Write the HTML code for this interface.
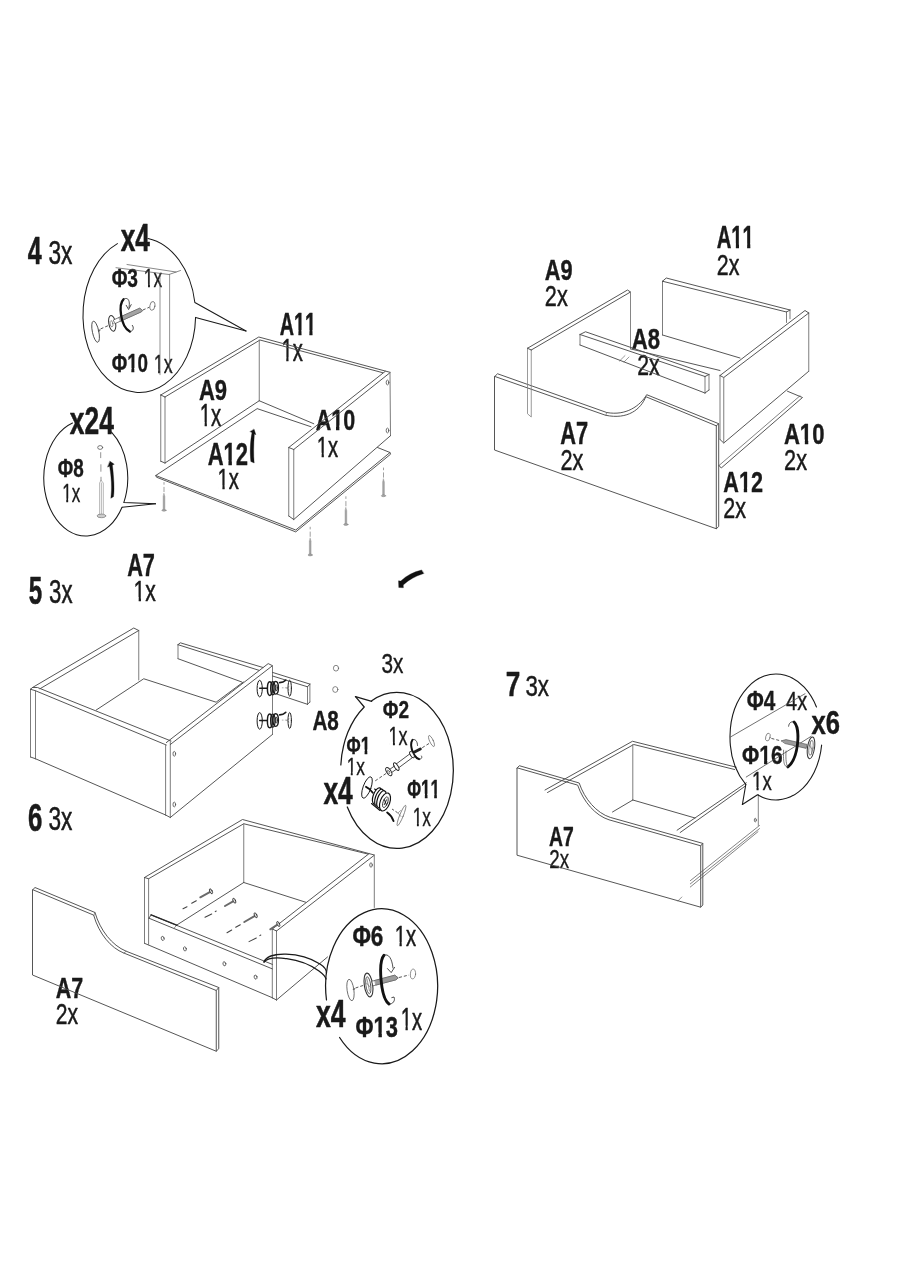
<!DOCTYPE html>
<html><head><meta charset="utf-8"><title>Assembly</title>
<style>html,body{margin:0;padding:0;background:#fff}svg{display:block}text{font-family:"Liberation Sans",sans-serif;font-kerning:none;font-variant-ligatures:none}</style>
</head><body>
<svg width="900" height="1280" viewBox="0 0 900 1280" fill="none" stroke-linecap="round" stroke-linejoin="round">
<rect width="900" height="1280" fill="#fff"/>
<g opacity="0.999">
<g transform="translate(27.66,264.16) scale(0.2505,0.3913)"><text font-size="100" font-weight="bold" fill="#1a1a1a" stroke="#1a1a1a" stroke-width="0.48" vector-effect="non-scaling-stroke">4</text></g>
<g transform="translate(48.46,264.26) scale(0.2269,0.3285)"><text font-size="100" font-weight="normal" fill="#1a1a1a" stroke="#1a1a1a" stroke-width="0.44" vector-effect="non-scaling-stroke">3x</text></g>
<g transform="translate(28.69,603.59) scale(0.2418,0.3874)"><text font-size="100" font-weight="bold" fill="#1a1a1a" stroke="#1a1a1a" stroke-width="0.47" vector-effect="non-scaling-stroke">5</text></g>
<g transform="translate(49.07,602.97) scale(0.2221,0.3258)"><text font-size="100" font-weight="normal" fill="#1a1a1a" stroke="#1a1a1a" stroke-width="0.43" vector-effect="non-scaling-stroke">3x</text></g>
<g transform="translate(27.99,830.78) scale(0.2590,0.3901)"><text font-size="100" font-weight="bold" fill="#1a1a1a" stroke="#1a1a1a" stroke-width="0.48" vector-effect="non-scaling-stroke">6</text></g>
<g transform="translate(48.45,830.27) scale(0.2270,0.3244)"><text font-size="100" font-weight="normal" fill="#1a1a1a" stroke="#1a1a1a" stroke-width="0.43" vector-effect="non-scaling-stroke">3x</text></g>
<g transform="translate(505.79,696.18) scale(0.2615,0.3528)"><text font-size="100" font-weight="bold" fill="#1a1a1a" stroke="#1a1a1a" stroke-width="0.43" vector-effect="non-scaling-stroke">7</text></g>
<g transform="translate(525.45,696.21) scale(0.2224,0.3008)"><text font-size="100" font-weight="normal" fill="#1a1a1a" stroke="#1a1a1a" stroke-width="0.4" vector-effect="non-scaling-stroke">3x</text></g>
<g transform="translate(120.66,251.26) scale(0.2630,0.3871)"><text font-size="100" font-weight="bold" fill="#1a1a1a" stroke="#1a1a1a" stroke-width="0.47" vector-effect="non-scaling-stroke">x4</text></g>
<g transform="translate(111.67,287.05) scale(0.1914,0.2598)"><text font-size="100" font-weight="bold" fill="#1a1a1a" stroke="#1a1a1a" stroke-width="0.32" vector-effect="non-scaling-stroke">Φ3</text></g>
<clipPath id="c10"><path clip-rule="evenodd" d="M-50,-150 H600 V60 H-50 Z M2.61,-13.44 H24.14 V12 H2.61 Z M34.99,-13.44 H55.74 V12 H34.99 Z"/></clipPath>
<g transform="translate(143.86,287.32) scale(0.1728,0.2638)"><text font-size="100" font-weight="normal" fill="#1a1a1a" stroke="#1a1a1a" stroke-width="0.35" vector-effect="non-scaling-stroke" clip-path="url(#c10)">1x</text></g>
<clipPath id="c12"><path clip-rule="evenodd" d="M-50,-150 H600 V60 H-50 Z M83.53,-16.12 H104.57 V12 H83.53 Z M119.99,-16.12 H139.76 V12 H119.99 Z"/></clipPath>
<g transform="translate(111.68,372.33) scale(0.1885,0.2638)"><text font-size="100" font-weight="bold" fill="#1a1a1a" stroke="#1a1a1a" stroke-width="0.32" vector-effect="non-scaling-stroke" clip-path="url(#c12)">Φ10</text></g>
<clipPath id="c14"><path clip-rule="evenodd" d="M-50,-150 H600 V60 H-50 Z M2.65,-13.49 H24.18 V12 H2.65 Z M34.95,-13.49 H55.70 V12 H34.95 Z"/></clipPath>
<g transform="translate(153.81,372.57) scale(0.1795,0.2616)"><text font-size="100" font-weight="normal" fill="#1a1a1a" stroke="#1a1a1a" stroke-width="0.35" vector-effect="non-scaling-stroke" clip-path="url(#c14)">1x</text></g>
<g transform="translate(69.75,434.46) scale(0.2646,0.3814)"><text font-size="100" font-weight="bold" fill="#1a1a1a" stroke="#1a1a1a" stroke-width="0.47" vector-effect="non-scaling-stroke">x24</text></g>
<g transform="translate(57.78,476.79) scale(0.1884,0.2596)"><text font-size="100" font-weight="bold" fill="#1a1a1a" stroke="#1a1a1a" stroke-width="0.32" vector-effect="non-scaling-stroke">Φ8</text></g>
<clipPath id="c18"><path clip-rule="evenodd" d="M-50,-150 H600 V60 H-50 Z M2.60,-13.41 H24.13 V12 H2.60 Z M35.00,-13.41 H55.75 V12 H35.00 Z"/></clipPath>
<g transform="translate(62.17,502.02) scale(0.1708,0.2653)"><text font-size="100" font-weight="normal" fill="#1a1a1a" stroke="#1a1a1a" stroke-width="0.35" vector-effect="non-scaling-stroke" clip-path="url(#c18)">1x</text></g>
<clipPath id="c20"><path clip-rule="evenodd" d="M-50,-150 H600 V60 H-50 Z M73.56,-15.39 H94.60 V12 H73.56 Z M110.24,-15.39 H130.01 V12 H110.24 Z M129.17,-15.39 H150.21 V12 H129.17 Z M165.85,-15.39 H185.62 V12 H165.85 Z"/></clipPath>
<g transform="translate(279.70,335.06) scale(0.1977,0.3070)"><text font-size="100" font-weight="bold" fill="#1a1a1a" stroke="#1a1a1a" stroke-width="0.38" vector-effect="non-scaling-stroke" clip-path="url(#c20)">A11</text></g>
<clipPath id="c22"><path clip-rule="evenodd" d="M-50,-150 H600 V60 H-50 Z M2.61,-12.71 H24.14 V12 H2.61 Z M34.99,-12.71 H55.74 V12 H34.99 Z"/></clipPath>
<g transform="translate(281.42,361.30) scale(0.2021,0.3065)"><text font-size="100" font-weight="normal" fill="#1a1a1a" stroke="#1a1a1a" stroke-width="0.41" vector-effect="non-scaling-stroke" clip-path="url(#c22)">1x</text></g>
<clipPath id="c24"><path clip-rule="evenodd" d="M-50,-150 H600 V60 H-50 Z M73.68,-15.58 H94.72 V12 H73.68 Z M110.11,-15.58 H129.88 V12 H110.11 Z"/></clipPath>
<g transform="translate(315.64,430.13) scale(0.2151,0.2943)"><text font-size="100" font-weight="bold" fill="#1a1a1a" stroke="#1a1a1a" stroke-width="0.36" vector-effect="non-scaling-stroke" clip-path="url(#c24)">A10</text></g>
<clipPath id="c26"><path clip-rule="evenodd" d="M-50,-150 H600 V60 H-50 Z M2.63,-12.74 H24.16 V12 H2.63 Z M34.97,-12.74 H55.72 V12 H34.97 Z"/></clipPath>
<g transform="translate(316.76,456.70) scale(0.2022,0.3038)"><text font-size="100" font-weight="normal" fill="#1a1a1a" stroke="#1a1a1a" stroke-width="0.4" vector-effect="non-scaling-stroke" clip-path="url(#c26)">1x</text></g>
<g transform="translate(198.94,400.02) scale(0.2206,0.3041)"><text font-size="100" font-weight="bold" fill="#1a1a1a" stroke="#1a1a1a" stroke-width="0.37" vector-effect="non-scaling-stroke">A9</text></g>
<clipPath id="c29"><path clip-rule="evenodd" d="M-50,-150 H600 V60 H-50 Z M2.64,-12.71 H24.17 V12 H2.64 Z M34.96,-12.71 H55.71 V12 H34.96 Z"/></clipPath>
<g transform="translate(199.75,426.20) scale(0.2033,0.3052)"><text font-size="100" font-weight="normal" fill="#1a1a1a" stroke="#1a1a1a" stroke-width="0.4" vector-effect="non-scaling-stroke" clip-path="url(#c29)">1x</text></g>
<clipPath id="c31"><path clip-rule="evenodd" d="M-50,-150 H600 V60 H-50 Z M73.65,-15.37 H94.69 V12 H73.65 Z M110.14,-15.37 H129.91 V12 H110.14 Z"/></clipPath>
<g transform="translate(207.64,464.81) scale(0.2199,0.3082)"><text font-size="100" font-weight="bold" fill="#1a1a1a" stroke="#1a1a1a" stroke-width="0.38" vector-effect="non-scaling-stroke" clip-path="url(#c31)">A12</text></g>
<clipPath id="c33"><path clip-rule="evenodd" d="M-50,-150 H600 V60 H-50 Z M2.63,-12.74 H24.16 V12 H2.63 Z M34.97,-12.74 H55.72 V12 H34.97 Z"/></clipPath>
<g transform="translate(217.56,489.40) scale(0.2022,0.3038)"><text font-size="100" font-weight="normal" fill="#1a1a1a" stroke="#1a1a1a" stroke-width="0.4" vector-effect="non-scaling-stroke" clip-path="url(#c33)">1x</text></g>
<g transform="translate(127.15,575.61) scale(0.2176,0.3084)"><text font-size="100" font-weight="bold" fill="#1a1a1a" stroke="#1a1a1a" stroke-width="0.38" vector-effect="non-scaling-stroke">A7</text></g>
<clipPath id="c36"><path clip-rule="evenodd" d="M-50,-150 H600 V60 H-50 Z M2.67,-12.74 H24.20 V12 H2.67 Z M34.93,-12.74 H55.68 V12 H34.93 Z"/></clipPath>
<g transform="translate(133.60,601.10) scale(0.2105,0.3038)"><text font-size="100" font-weight="normal" fill="#1a1a1a" stroke="#1a1a1a" stroke-width="0.4" vector-effect="non-scaling-stroke" clip-path="url(#c36)">1x</text></g>
<g transform="translate(544.84,279.92) scale(0.2173,0.3013)"><text font-size="100" font-weight="bold" fill="#1a1a1a" stroke="#1a1a1a" stroke-width="0.37" vector-effect="non-scaling-stroke">A9</text></g>
<g transform="translate(544.81,306.00) scale(0.2171,0.3036)"><text font-size="100" font-weight="normal" fill="#1a1a1a" stroke="#1a1a1a" stroke-width="0.4" vector-effect="non-scaling-stroke">2x</text></g>
<g transform="translate(631.73,348.92) scale(0.2211,0.3013)"><text font-size="100" font-weight="bold" fill="#1a1a1a" stroke="#1a1a1a" stroke-width="0.37" vector-effect="non-scaling-stroke">A8</text></g>
<g transform="translate(637.13,375.40) scale(0.2120,0.3036)"><text font-size="100" font-weight="normal" fill="#1a1a1a" stroke="#1a1a1a" stroke-width="0.4" vector-effect="non-scaling-stroke">2x</text></g>
<g transform="translate(560.15,443.51) scale(0.2184,0.3099)"><text font-size="100" font-weight="bold" fill="#1a1a1a" stroke="#1a1a1a" stroke-width="0.38" vector-effect="non-scaling-stroke">A7</text></g>
<g transform="translate(560.41,469.50) scale(0.2171,0.3036)"><text font-size="100" font-weight="normal" fill="#1a1a1a" stroke="#1a1a1a" stroke-width="0.4" vector-effect="non-scaling-stroke">2x</text></g>
<clipPath id="c44"><path clip-rule="evenodd" d="M-50,-150 H600 V60 H-50 Z M73.58,-15.34 H94.62 V12 H73.58 Z M110.21,-15.34 H129.98 V12 H110.21 Z M129.19,-15.34 H150.23 V12 H129.19 Z M165.83,-15.34 H185.60 V12 H165.83 Z"/></clipPath>
<g transform="translate(716.69,248.31) scale(0.2027,0.3099)"><text font-size="100" font-weight="bold" fill="#1a1a1a" stroke="#1a1a1a" stroke-width="0.38" vector-effect="non-scaling-stroke" clip-path="url(#c44)">A11</text></g>
<g transform="translate(716.82,274.60) scale(0.2140,0.3036)"><text font-size="100" font-weight="normal" fill="#1a1a1a" stroke="#1a1a1a" stroke-width="0.4" vector-effect="non-scaling-stroke">2x</text></g>
<clipPath id="c47"><path clip-rule="evenodd" d="M-50,-150 H600 V60 H-50 Z M73.68,-15.47 H94.72 V12 H73.68 Z M110.12,-15.47 H129.89 V12 H110.12 Z"/></clipPath>
<g transform="translate(783.94,444.22) scale(0.2207,0.3013)"><text font-size="100" font-weight="bold" fill="#1a1a1a" stroke="#1a1a1a" stroke-width="0.37" vector-effect="non-scaling-stroke" clip-path="url(#c47)">A10</text></g>
<g transform="translate(784.11,470.40) scale(0.2171,0.3036)"><text font-size="100" font-weight="normal" fill="#1a1a1a" stroke="#1a1a1a" stroke-width="0.4" vector-effect="non-scaling-stroke">2x</text></g>
<clipPath id="c50"><path clip-rule="evenodd" d="M-50,-150 H600 V60 H-50 Z M73.66,-15.42 H94.70 V12 H73.66 Z M110.13,-15.42 H129.90 V12 H110.13 Z"/></clipPath>
<g transform="translate(723.35,492.31) scale(0.2160,0.3040)"><text font-size="100" font-weight="bold" fill="#1a1a1a" stroke="#1a1a1a" stroke-width="0.37" vector-effect="non-scaling-stroke" clip-path="url(#c50)">A12</text></g>
<g transform="translate(723.22,518.40) scale(0.2151,0.3036)"><text font-size="100" font-weight="normal" fill="#1a1a1a" stroke="#1a1a1a" stroke-width="0.4" vector-effect="non-scaling-stroke">2x</text></g>
<g transform="translate(381.39,672.55) scale(0.2078,0.2758)"><text font-size="100" font-weight="normal" fill="#1a1a1a" stroke="#1a1a1a" stroke-width="0.37" vector-effect="non-scaling-stroke">3x</text></g>
<g transform="translate(312.45,730.37) scale(0.2067,0.2736)"><text font-size="100" font-weight="bold" fill="#1a1a1a" stroke="#1a1a1a" stroke-width="0.33" vector-effect="non-scaling-stroke">A8</text></g>
<g transform="translate(382.76,718.32) scale(0.1906,0.2459)"><text font-size="100" font-weight="bold" fill="#1a1a1a" stroke="#1a1a1a" stroke-width="0.3" vector-effect="non-scaling-stroke">Φ2</text></g>
<clipPath id="c56"><path clip-rule="evenodd" d="M-50,-150 H600 V60 H-50 Z M2.70,-13.70 H24.23 V12 H2.70 Z M34.90,-13.70 H55.65 V12 H34.90 Z"/></clipPath>
<g transform="translate(388.59,745.13) scale(0.1802,0.2510)"><text font-size="100" font-weight="normal" fill="#1a1a1a" stroke="#1a1a1a" stroke-width="0.33" vector-effect="non-scaling-stroke" clip-path="url(#c56)">1x</text></g>
<clipPath id="c58"><path clip-rule="evenodd" d="M-50,-150 H600 V60 H-50 Z M83.51,-16.50 H104.55 V12 H83.51 Z M120.01,-16.50 H139.78 V12 H120.01 Z"/></clipPath>
<g transform="translate(346.62,753.62) scale(0.1722,0.2463)"><text font-size="100" font-weight="bold" fill="#1a1a1a" stroke="#1a1a1a" stroke-width="0.3" vector-effect="non-scaling-stroke" clip-path="url(#c58)">Φ1</text></g>
<clipPath id="c60"><path clip-rule="evenodd" d="M-50,-150 H600 V60 H-50 Z M2.70,-13.87 H24.23 V12 H2.70 Z M34.90,-13.87 H55.65 V12 H34.90 Z"/></clipPath>
<g transform="translate(346.64,775.14) scale(0.1731,0.2439)"><text font-size="100" font-weight="normal" fill="#1a1a1a" stroke="#1a1a1a" stroke-width="0.32" vector-effect="non-scaling-stroke" clip-path="url(#c60)">1x</text></g>
<g transform="translate(323.45,803.66) scale(0.2639,0.3813)"><text font-size="100" font-weight="bold" fill="#1a1a1a" stroke="#1a1a1a" stroke-width="0.47" vector-effect="non-scaling-stroke">x4</text></g>
<clipPath id="c63"><path clip-rule="evenodd" d="M-50,-150 H600 V60 H-50 Z M83.46,-16.38 H104.50 V12 H83.46 Z M120.06,-16.38 H139.83 V12 H120.06 Z M139.08,-16.38 H160.12 V12 H139.08 Z M175.68,-16.38 H195.45 V12 H175.68 Z"/></clipPath>
<g transform="translate(407.24,797.91) scale(0.1685,0.2519)"><text font-size="100" font-weight="bold" fill="#1a1a1a" stroke="#1a1a1a" stroke-width="0.31" vector-effect="non-scaling-stroke" clip-path="url(#c63)">Φ11</text></g>
<clipPath id="c65"><path clip-rule="evenodd" d="M-50,-150 H600 V60 H-50 Z M2.67,-13.74 H24.20 V12 H2.67 Z M34.93,-13.74 H55.68 V12 H34.93 Z"/></clipPath>
<g transform="translate(412.75,826.44) scale(0.1730,0.2496)"><text font-size="100" font-weight="normal" fill="#1a1a1a" stroke="#1a1a1a" stroke-width="0.33" vector-effect="non-scaling-stroke" clip-path="url(#c65)">1x</text></g>
<g transform="translate(548.88,845.54) scale(0.1941,0.2714)"><text font-size="100" font-weight="bold" fill="#1a1a1a" stroke="#1a1a1a" stroke-width="0.33" vector-effect="non-scaling-stroke">A7</text></g>
<g transform="translate(549.23,868.13) scale(0.1875,0.2572)"><text font-size="100" font-weight="normal" fill="#1a1a1a" stroke="#1a1a1a" stroke-width="0.34" vector-effect="non-scaling-stroke">2x</text></g>
<g transform="translate(746.73,709.69) scale(0.2071,0.2674)"><text font-size="100" font-weight="bold" fill="#1a1a1a" stroke="#1a1a1a" stroke-width="0.33" vector-effect="non-scaling-stroke">Φ4</text></g>
<g transform="translate(786.02,710.12) scale(0.2000,0.2667)"><text font-size="100" font-weight="normal" fill="#1a1a1a" stroke="#1a1a1a" stroke-width="0.35" vector-effect="non-scaling-stroke">4x</text></g>
<g transform="translate(811.42,734.48) scale(0.2562,0.3305)"><text font-size="100" font-weight="bold" fill="#1a1a1a" stroke="#1a1a1a" stroke-width="0.4" vector-effect="non-scaling-stroke">x6</text></g>
<clipPath id="c72"><path clip-rule="evenodd" d="M-50,-150 H600 V60 H-50 Z M83.59,-16.08 H104.63 V12 H83.59 Z M119.93,-16.08 H139.70 V12 H119.93 Z"/></clipPath>
<g transform="translate(742.12,764.17) scale(0.2099,0.2665)"><text font-size="100" font-weight="bold" fill="#1a1a1a" stroke="#1a1a1a" stroke-width="0.33" vector-effect="non-scaling-stroke" clip-path="url(#c72)">Φ16</text></g>
<clipPath id="c74"><path clip-rule="evenodd" d="M-50,-150 H600 V60 H-50 Z M2.68,-13.51 H24.21 V12 H2.68 Z M34.92,-13.51 H55.67 V12 H34.92 Z"/></clipPath>
<g transform="translate(752.06,790.43) scale(0.1862,0.2609)"><text font-size="100" font-weight="normal" fill="#1a1a1a" stroke="#1a1a1a" stroke-width="0.35" vector-effect="non-scaling-stroke" clip-path="url(#c74)">1x</text></g>
<g transform="translate(55.65,997.62) scale(0.2145,0.2971)"><text font-size="100" font-weight="bold" fill="#1a1a1a" stroke="#1a1a1a" stroke-width="0.36" vector-effect="non-scaling-stroke">A7</text></g>
<g transform="translate(55.84,1023.60) scale(0.2110,0.3022)"><text font-size="100" font-weight="normal" fill="#1a1a1a" stroke="#1a1a1a" stroke-width="0.4" vector-effect="non-scaling-stroke">2x</text></g>
<g transform="translate(316.05,1027.07) scale(0.2657,0.3856)"><text font-size="100" font-weight="bold" fill="#1a1a1a" stroke="#1a1a1a" stroke-width="0.47" vector-effect="non-scaling-stroke">x4</text></g>
<g transform="translate(352.38,945.84) scale(0.2248,0.2903)"><text font-size="100" font-weight="bold" fill="#1a1a1a" stroke="#1a1a1a" stroke-width="0.35" vector-effect="non-scaling-stroke">Φ6</text></g>
<clipPath id="c80"><path clip-rule="evenodd" d="M-50,-150 H600 V60 H-50 Z M2.66,-12.93 H24.19 V12 H2.66 Z M34.94,-12.93 H55.69 V12 H34.94 Z"/></clipPath>
<g transform="translate(394.65,945.70) scale(0.2023,0.2923)"><text font-size="100" font-weight="normal" fill="#1a1a1a" stroke="#1a1a1a" stroke-width="0.39" vector-effect="non-scaling-stroke" clip-path="url(#c80)">1x</text></g>
<clipPath id="c82"><path clip-rule="evenodd" d="M-50,-150 H600 V60 H-50 Z M83.56,-15.54 H104.60 V12 H83.56 Z M119.96,-15.54 H139.73 V12 H119.96 Z"/></clipPath>
<g transform="translate(355.51,1037.19) scale(0.2194,0.2966)"><text font-size="100" font-weight="bold" fill="#1a1a1a" stroke="#1a1a1a" stroke-width="0.36" vector-effect="non-scaling-stroke" clip-path="url(#c82)">Φ13</text></g>
<clipPath id="c84"><path clip-rule="evenodd" d="M-50,-150 H600 V60 H-50 Z M2.63,-12.71 H24.16 V12 H2.63 Z M34.97,-12.71 H55.72 V12 H34.97 Z"/></clipPath>
<g transform="translate(400.66,1029.50) scale(0.2022,0.3052)"><text font-size="100" font-weight="normal" fill="#1a1a1a" stroke="#1a1a1a" stroke-width="0.4" vector-effect="non-scaling-stroke" clip-path="url(#c84)">1x</text></g>
<polyline points="160.75,395 160.75,461.25" stroke="#767676" stroke-width="0.95" />
<polyline points="160.75,461.25 165,463" stroke="#4d4d4d" stroke-width="0.95" />
<polyline points="165,463 165,397" stroke="#767676" stroke-width="0.95" />
<polyline points="160.75,395 258.75,337 390,372.3" stroke="#4d4d4d" stroke-width="0.95" />
<polyline points="165,397 260,340 382.7,372.7" stroke="#4d4d4d" stroke-width="0.95" />
<polyline points="160.75,395 165,397" stroke="#4d4d4d" stroke-width="0.95" />
<polyline points="165,463 259.25,400.75" stroke="#4d4d4d" stroke-width="0.95" />
<polyline points="259.25,340 259.25,400.75" stroke="#767676" stroke-width="0.95" />
<polyline points="259.25,400.75 313.75,423.75" stroke="#4d4d4d" stroke-width="0.95" />
<polyline points="288.75,447.5 385.3,371.3" stroke="#4d4d4d" stroke-width="0.95" />
<polyline points="293.75,449.5 390,372.7" stroke="#4d4d4d" stroke-width="0.95" />
<polyline points="390,372.7 390.5,435.7" stroke="#767676" stroke-width="0.95" />
<polyline points="390.5,435.7 293.75,519.5" stroke="#4d4d4d" stroke-width="0.95" />
<polyline points="293.75,519.5 293.75,449.5" stroke="#767676" stroke-width="0.95" />
<polyline points="288.75,447.5 288.75,516" stroke="#767676" stroke-width="0.95" />
<polyline points="288.75,516 293.75,519.5" stroke="#4d4d4d" stroke-width="0.95" />
<polyline points="288.75,447.5 293.75,449.5" stroke="#4d4d4d" stroke-width="0.95" />
<ellipse cx="387.5" cy="382.5" rx="1.3" ry="2.4" transform="rotate(0 387.5 382.5)" stroke="#4d4d4d" stroke-width="0.8" fill="none"/>
<ellipse cx="387.5" cy="430.5" rx="1.3" ry="2.4" transform="rotate(0 387.5 430.5)" stroke="#4d4d4d" stroke-width="0.8" fill="none"/>
<polyline points="257,408.75 155.75,475.5 295.75,530 390,452.5 377.5,447.5" stroke="#4d4d4d" stroke-width="0.95" />
<polyline points="155.75,475.5 156.5,477.2 295.75,531.9 390.6,454.2 390,452.5" stroke="#4d4d4d" stroke-width="0.95" />
<polyline points="257.5,408.75 311,426.75" stroke="#4d4d4d" stroke-width="0.95" />
<polyline points="164,482.5 164,484.3" stroke="#777" stroke-width="0.7" />
<polyline points="164,487.3 164,491.7" stroke="#777" stroke-width="0.7" />
<path d="M164,493.5 L164.85,496.5 L164.85,509.5 L163.15,509.5 L163.15,496.5 Z" stroke="#808080" stroke-width="0.4" fill="#a6a6a6" />
<ellipse cx="164" cy="510.3" rx="2.2" ry="0.9" transform="rotate(0 164 510.3)" stroke="#808080" stroke-width="0.5" fill="#a6a6a6"/>
<polyline points="310.2,527.2 310.2,529.0" stroke="#777" stroke-width="0.7" />
<polyline points="310.2,532.0 310.2,536.4000000000001" stroke="#777" stroke-width="0.7" />
<path d="M310.2,538.2 L311.05,541.2 L311.05,554.2 L309.34999999999997,554.2 L309.34999999999997,541.2 Z" stroke="#808080" stroke-width="0.4" fill="#a6a6a6" />
<ellipse cx="310.2" cy="555" rx="2.2" ry="0.9" transform="rotate(0 310.2 555)" stroke="#808080" stroke-width="0.5" fill="#a6a6a6"/>
<polyline points="345.9,496.7 345.9,498.5" stroke="#777" stroke-width="0.7" />
<polyline points="345.9,501.5 345.9,505.9" stroke="#777" stroke-width="0.7" />
<path d="M345.9,507.7 L346.75,510.7 L346.75,523.7 L345.04999999999995,523.7 L345.04999999999995,510.7 Z" stroke="#808080" stroke-width="0.4" fill="#a6a6a6" />
<ellipse cx="345.9" cy="524.5" rx="2.2" ry="0.9" transform="rotate(0 345.9 524.5)" stroke="#808080" stroke-width="0.5" fill="#a6a6a6"/>
<polyline points="383.5,468 383.5,469.8" stroke="#777" stroke-width="0.7" />
<polyline points="383.5,472.8 383.5,477.2" stroke="#777" stroke-width="0.7" />
<path d="M383.5,479 L384.35,482 L384.35,495.0 L382.65,495.0 L382.65,482 Z" stroke="#808080" stroke-width="0.4" fill="#a6a6a6" />
<ellipse cx="383.5" cy="495.8" rx="2.2" ry="0.9" transform="rotate(0 383.5 495.8)" stroke="#808080" stroke-width="0.5" fill="#a6a6a6"/>
<path d="M254.1,429.3 L255.9,434.7 L254.4,434 C253.5,445 253.5,455 254.2,463 L250.8,461.5 C249.8,452 250.2,441 252,432.6 L250.1,431.8 Z" stroke="#111" stroke-width="0.3" fill="#111" />
<path d="M195.57,317.43 A56.3,77.5 0 0 1 107.45,378.91 A56.3,77.5 0 0 1 117.39,243.61" stroke="#1a1a1a" stroke-width="1.05" fill="none" />
<path d="M148.01,238.43 A56.3,77.5 0 0 1 178.97,260.01 A56.3,77.5 0 0 1 194.86,302.48 L246,331" stroke="#1a1a1a" stroke-width="1.05" fill="none" />
<polyline points="246,331 195.6,317.4" stroke="#1a1a1a" stroke-width="1.05" />
<polyline points="116,267.7 169,274.5 180.5,270.5" stroke="#555" stroke-width="0.7" />
<polyline points="127,264.5 176,272" stroke="#555" stroke-width="0.7" />
<polyline points="160,273.4 160,374.7" stroke="#666" stroke-width="0.7" />
<polyline points="169.6,274.5 169.6,371.8" stroke="#666" stroke-width="0.7" />
<path d="M122.05,507.18 A42,58 0 0 1 53.16,514.58 A42,58 0 0 1 72.49,422.97" stroke="#1a1a1a" stroke-width="1.05" fill="none" />
<path d="M111.49,432.17 A42,58 0 0 1 126.58,464.41 A42,58 0 0 1 123.78,502.60 L155.6,503.8" stroke="#1a1a1a" stroke-width="1.05" fill="none" />
<polyline points="155.6,503.8 122.2,507.2" stroke="#1a1a1a" stroke-width="1.05" />
<path d="M494.5,376.75 L494.5,450 L716.3,528.75 L716.3,425.8 L645.8,396.7 C641,409 628,420 605.8,415.3 Z" stroke="#4d4d4d" stroke-width="0.95" fill="none" />
<path d="M494.5,376.75 L497.5,373.75 L606.7,412.5 C626,416 640,406 646.7,394.7 L718.7,423.7 L718.7,526.5 L716.3,528.75" stroke="#4d4d4d" stroke-width="0.95" fill="none" />
<polyline points="716.3,425.8 718.7,423.7" stroke="#4d4d4d" stroke-width="0.95" />
<polyline points="605.8,415.3 606.7,412.5" stroke="#4d4d4d" stroke-width="0.6" />
<polyline points="527.5,348.25 627.5,290 630.5,292 531.25,350" stroke="#4d4d4d" stroke-width="0.95" />
<polyline points="527.5,348.25 527.5,413.75 531.25,417 531.25,350" stroke="#808080" stroke-width="0.8" />
<polyline points="527.5,348.25 531.25,350" stroke="#4d4d4d" stroke-width="0.95" />
<polyline points="630.5,292 630.5,349" stroke="#707070" stroke-width="0.85" />
<polyline points="580,334.5 580,345" stroke="#767676" stroke-width="0.95" />
<polyline points="580,345 705,393" stroke="#4d4d4d" stroke-width="0.95" />
<polyline points="705,393 705,376.5" stroke="#767676" stroke-width="0.95" />
<polyline points="705,376.5 580,334.5" stroke="#4d4d4d" stroke-width="0.95" />
<polyline points="580,334.5 585.5,331.75 709,374.5" stroke="#4d4d4d" stroke-width="0.95" />
<polyline points="709,374.5 709,390" stroke="#767676" stroke-width="0.95" />
<polyline points="709,390 705,393" stroke="#4d4d4d" stroke-width="0.95" />
<polyline points="705,376.5 709,374.5" stroke="#4d4d4d" stroke-width="0.95" />
<polyline points="619.5,361 625,355.6" stroke="#555" stroke-width="0.6" />
<polyline points="624,362 629,357" stroke="#555" stroke-width="0.6" />
<polyline points="662.5,335 662.5,281.25" stroke="#767676" stroke-width="0.95" />
<polyline points="662.5,281.25 666.25,278 790,310" stroke="#4d4d4d" stroke-width="0.95" />
<polyline points="790,310 790,318.75" stroke="#767676" stroke-width="0.95" />
<polyline points="662.5,281.25 786.5,312" stroke="#4d4d4d" stroke-width="0.95" />
<polyline points="786.5,312 786.5,322.5" stroke="#767676" stroke-width="0.95" />
<polyline points="786.5,312 790,310" stroke="#4d4d4d" stroke-width="0.95" />
<polyline points="662.5,335 740,358" stroke="#4d4d4d" stroke-width="0.95" />
<polyline points="631,349 720,370.5" stroke="#4d4d4d" stroke-width="0.95" />
<polyline points="720,375.5 720,439.5" stroke="#767676" stroke-width="0.95" />
<polyline points="720,439.5 723.75,443 808.75,371.25" stroke="#4d4d4d" stroke-width="0.95" />
<polyline points="808.75,371.25 808.75,313" stroke="#767676" stroke-width="0.95" />
<polyline points="808.75,313 805,310.5 720,375.5" stroke="#4d4d4d" stroke-width="0.95" />
<polyline points="720,375.5 723.75,377.5 808.75,313" stroke="#4d4d4d" stroke-width="0.95" />
<polyline points="723.75,377.5 723.75,443" stroke="#767676" stroke-width="0.95" />
<polyline points="787.5,391.25 802.5,397.5 721.25,468 719,465.5" stroke="#4d4d4d" stroke-width="0.95" />
<polyline points="719,465.5 800,395.8" stroke="#4d4d4d" stroke-width="0.7" />
<polyline points="30.5,689.25 30.5,757" stroke="#767676" stroke-width="0.95" />
<polyline points="30.5,757 35.5,758.75" stroke="#4d4d4d" stroke-width="0.95" />
<polyline points="35.5,758.75 35.5,690.75" stroke="#767676" stroke-width="0.95" />
<polyline points="30.5,689.25 32.5,687.5 133.75,628 138.75,630.5" stroke="#4d4d4d" stroke-width="0.95" />
<polyline points="138.75,630.5 138.75,680" stroke="#767676" stroke-width="0.95" />
<polyline points="40,688.75 138.75,630.5" stroke="#4d4d4d" stroke-width="0.95" />
<polyline points="30.5,689.25 35.5,690.75 166.3,745" stroke="#4d4d4d" stroke-width="0.95" />
<polyline points="32.5,687.5 37.5,687.5 171,741" stroke="#4d4d4d" stroke-width="0.95" />
<polyline points="35.5,758.75 165.6,815" stroke="#4d4d4d" stroke-width="0.95" />
<polyline points="165.6,745 165.6,815" stroke="#767676" stroke-width="0.95" />
<polyline points="165.6,815 170.3,817.5" stroke="#4d4d4d" stroke-width="0.95" />
<polyline points="170.3,817.5 170.3,741.5" stroke="#767676" stroke-width="0.95" />
<polyline points="166.3,742.6 268.2,663.6 272.5,665.7 170.3,744.5" stroke="#4d4d4d" stroke-width="0.95" />
<polyline points="272.5,665.7 272.5,734.4" stroke="#767676" stroke-width="0.95" />
<polyline points="272.5,734.4 170.3,817.5" stroke="#4d4d4d" stroke-width="0.95" />
<ellipse cx="174.3" cy="753.8" rx="1.3" ry="2.4" transform="rotate(0 174.3 753.8)" stroke="#4d4d4d" stroke-width="0.8" fill="none"/>
<ellipse cx="174.3" cy="804.5" rx="1.3" ry="2.4" transform="rotate(0 174.3 804.5)" stroke="#4d4d4d" stroke-width="0.8" fill="none"/>
<polyline points="96.25,710 143.75,678.75 216.1,702.2 243.3,682" stroke="#4d4d4d" stroke-width="0.95" />
<polyline points="241.8,682 178,658.7" stroke="#4d4d4d" stroke-width="0.95" />
<polyline points="178,658.7 178,644.7" stroke="#767676" stroke-width="0.95" />
<polyline points="178,644.7 258.9,670.3" stroke="#4d4d4d" stroke-width="0.95" />
<polyline points="178,644.7 180.3,642.8 263,667.5" stroke="#4d4d4d" stroke-width="0.95" />
<polyline points="272.5,676 307.5,686.8" stroke="#4d4d4d" stroke-width="0.95" />
<polyline points="307.5,686.8 307.5,704.3" stroke="#767676" stroke-width="0.95" />
<polyline points="307.5,704.3 277.2,694.2" stroke="#4d4d4d" stroke-width="0.95" />
<polyline points="272.5,672.4 309.9,684.1" stroke="#4d4d4d" stroke-width="0.95" />
<polyline points="309.9,684.1 309.9,702" stroke="#767676" stroke-width="0.95" />
<polyline points="309.9,702 307.5,704.3" stroke="#4d4d4d" stroke-width="0.95" />
<polyline points="307.5,686.8 309.9,684.1" stroke="#4d4d4d" stroke-width="0.95" />
<ellipse cx="336" cy="668.2" rx="2.6" ry="2.9" transform="rotate(0 336 668.2)" stroke="#555" stroke-width="0.7" fill="none"/>
<ellipse cx="335.3" cy="689.5" rx="2.6" ry="2.9" transform="rotate(0 335.3 689.5)" stroke="#555" stroke-width="0.7" fill="none"/>
<ellipse cx="259.7" cy="688.6" rx="2.6" ry="8.3" transform="rotate(0 259.7 688.6)" stroke="#1a1a1a" stroke-width="1.0" fill="none"/>
<polyline points="259.7,688.3000000000001 267,688.3000000000001" stroke="#1a1a1a" stroke-width="1.5" />
<ellipse cx="269.8" cy="688.6" rx="2.4" ry="6.8" transform="rotate(0 269.8 688.6)" stroke="#1a1a1a" stroke-width="1.5" fill="none"/>
<ellipse cx="272.8" cy="688.3000000000001" rx="2.2" ry="6.6" transform="rotate(0 272.8 688.3000000000001)" stroke="#1a1a1a" stroke-width="1.2" fill="none"/>
<ellipse cx="275.7" cy="687.8000000000001" rx="2.7" ry="6.3" transform="rotate(0 275.7 687.8000000000001)" stroke="#1a1a1a" stroke-width="1.4" fill="none"/>
<ellipse cx="276.2" cy="687.8000000000001" rx="1.1" ry="3.0" transform="rotate(0 276.2 687.8000000000001)" stroke="#1a1a1a" stroke-width="1.0" fill="none"/>
<polyline points="281.9,687.8000000000001 286.5,687.8000000000001" stroke="#777" stroke-width="0.6" stroke-dasharray="1.6 1.4" stroke-linecap="butt"/>
<ellipse cx="289.7" cy="688.2" rx="1.7" ry="8" transform="rotate(0 289.7 688.2)" stroke="#222" stroke-width="1.0" fill="none"/>
<path d="M286.8,688.0 L289,686.6 M286.8,688.0 L289,689.6" stroke="#555" stroke-width="0.5" fill="none" />
<path d="M279.7,682.6 Q283.5,682.3000000000001 285.8,680.0" stroke="#1a1a1a" stroke-width="1.6" fill="none" />
<ellipse cx="259.7" cy="720.9" rx="2.6" ry="8.3" transform="rotate(0 259.7 720.9)" stroke="#1a1a1a" stroke-width="1.0" fill="none"/>
<polyline points="259.7,720.6 267,720.6" stroke="#1a1a1a" stroke-width="1.5" />
<ellipse cx="269.8" cy="720.9" rx="2.4" ry="6.8" transform="rotate(0 269.8 720.9)" stroke="#1a1a1a" stroke-width="1.5" fill="none"/>
<ellipse cx="272.8" cy="720.6" rx="2.2" ry="6.6" transform="rotate(0 272.8 720.6)" stroke="#1a1a1a" stroke-width="1.2" fill="none"/>
<ellipse cx="275.7" cy="720.1" rx="2.7" ry="6.3" transform="rotate(0 275.7 720.1)" stroke="#1a1a1a" stroke-width="1.4" fill="none"/>
<ellipse cx="276.2" cy="720.1" rx="1.1" ry="3.0" transform="rotate(0 276.2 720.1)" stroke="#1a1a1a" stroke-width="1.0" fill="none"/>
<polyline points="281.9,720.1 286.5,720.1" stroke="#777" stroke-width="0.6" stroke-dasharray="1.6 1.4" stroke-linecap="butt"/>
<ellipse cx="289.7" cy="720.5" rx="1.7" ry="8" transform="rotate(0 289.7 720.5)" stroke="#222" stroke-width="1.0" fill="none"/>
<path d="M286.8,720.3 L289,718.9 M286.8,720.3 L289,721.9" stroke="#555" stroke-width="0.5" fill="none" />
<path d="M279.7,714.9 Q283.5,714.6 285.8,712.3" stroke="#1a1a1a" stroke-width="1.6" fill="none" />
<path d="M371.70,700.72 A56.3,78 0 0 1 450.65,794.05 A56.3,78 0 0 1 347.29,807.02" stroke="#1a1a1a" stroke-width="1.25" fill="none" />
<path d="M340.84,764.96 A56.3,78 0 0 1 347.85,732.35 A56.3,78 0 0 1 364.23,706.98 L355.5,696.7" stroke="#1a1a1a" stroke-width="1.25" fill="none" />
<polyline points="355.5,696.7 371.7,701.3" stroke="#1a1a1a" stroke-width="1.25" />
<path d="M421.5,570 Q409,573 400.75,581 L398.5,580.8 L398.75,587.5 L403.4,587.75 L403.25,585 Q411,577.5 423.75,573.5 Z" stroke="#111" stroke-width="0.3" fill="#111" />
<path d="M32.5,890 L32.5,975 L216.25,1051.25 L216.25,990.5 L123.75,953 C111,948 99,934 93.75,915.5 Z" stroke="#4d4d4d" stroke-width="0.95" fill="none" />
<path d="M32.5,890 L35,887.5 L95,912.5 C100,930 112,945.5 126.25,951.25 L218.75,987.5 L218.75,1048.75 L216.25,1051.25" stroke="#4d4d4d" stroke-width="0.95" fill="none" />
<polyline points="216.25,990.5 218.75,987.5" stroke="#4d4d4d" stroke-width="0.95" />
<polyline points="123.75,953 126.25,951.25" stroke="#4d4d4d" stroke-width="0.6" />
<polyline points="93.75,915.5 95,912.5" stroke="#4d4d4d" stroke-width="0.6" />
<polyline points="144.5,877.5 144.5,943.3" stroke="#767676" stroke-width="0.95" />
<polyline points="144.5,943.3 272.5,997.8" stroke="#4d4d4d" stroke-width="0.95" />
<polyline points="148.6,878.75 148.6,944.8" stroke="#767676" stroke-width="0.95" />
<polyline points="144.5,877.5 242.5,819.5 374.3,855" stroke="#4d4d4d" stroke-width="0.95" />
<polyline points="374.3,855 374.3,907.5" stroke="#767676" stroke-width="0.95" />
<polyline points="144.5,877.5 148.6,878.75 243.75,823.75 367.7,854" stroke="#4d4d4d" stroke-width="0.95" />
<polyline points="243.75,823.75 243.75,882.5" stroke="#767676" stroke-width="0.95" />
<polyline points="243.75,882.5 305.6,902.2" stroke="#4d4d4d" stroke-width="0.95" />
<polyline points="243.75,882.5 176.7,925.1" stroke="#4d4d4d" stroke-width="0.95" />
<polyline points="369,853.7 272.3,929" stroke="#4d4d4d" stroke-width="0.95" />
<polyline points="272.3,929 272.3,997.8" stroke="#767676" stroke-width="0.95" />
<polyline points="272.3,997.8 276.5,1000" stroke="#4d4d4d" stroke-width="0.95" />
<polyline points="276.5,1000 276.5,931" stroke="#767676" stroke-width="0.95" />
<polyline points="276.5,931 373.7,855.7" stroke="#4d4d4d" stroke-width="0.95" />
<polyline points="272.3,929 276.5,931" stroke="#4d4d4d" stroke-width="0.95" />
<polyline points="276.5,1000 327.5,957" stroke="#4d4d4d" stroke-width="0.95" />
<ellipse cx="371" cy="865" rx="1.3" ry="2.2" transform="rotate(0 371 865)" stroke="#4d4d4d" stroke-width="0.8" fill="none"/>
<polyline points="148.9,918.2 151.1,914.9 272.4,964.4" stroke="#4d4d4d" stroke-width="0.95" />
<polyline points="148.9,918.2 272.4,968.9" stroke="#4d4d4d" stroke-width="0.95" />
<polyline points="174.4,927.8 176.7,925.1" stroke="#4d4d4d" stroke-width="0.6" />
<polyline points="151.1,914.9 176.7,925.1" stroke="#2a2a2a" stroke-width="1.5" />
<ellipse cx="162.7" cy="938.4" rx="1.4" ry="2.1" transform="rotate(-15 162.7 938.4)" stroke="#4d4d4d" stroke-width="0.8" fill="none"/>
<ellipse cx="184.9" cy="948.9" rx="1.4" ry="2.1" transform="rotate(-15 184.9 948.9)" stroke="#4d4d4d" stroke-width="0.8" fill="none"/>
<ellipse cx="224.4" cy="963.8" rx="1.4" ry="2.1" transform="rotate(-15 224.4 963.8)" stroke="#4d4d4d" stroke-width="0.8" fill="none"/>
<ellipse cx="255.6" cy="977.1" rx="1.4" ry="2.1" transform="rotate(-15 255.6 977.1)" stroke="#4d4d4d" stroke-width="0.8" fill="none"/>
<polyline points="210.2,891.8 200.3,897.3" stroke="#6a6a6a" stroke-width="2.0" />
<ellipse cx="211" cy="891.3" rx="1.2" ry="2.7" transform="rotate(-25 211 891.3)" stroke="#333" stroke-width="0.8" fill="#ddd"/>
<polyline points="196.3,900.7 191.7,903.3" stroke="#444" stroke-width="1.05" />
<polyline points="187,906.7 183,908.7" stroke="#444" stroke-width="1.05" />
<polyline points="233.5,901.2 225,906" stroke="#6a6a6a" stroke-width="2.0" />
<ellipse cx="234.3" cy="900.7" rx="1.2" ry="2.7" transform="rotate(-25 234.3 900.7)" stroke="#333" stroke-width="0.8" fill="#ddd"/>
<polyline points="216.2,911 215.2,911.6" stroke="#444" stroke-width="1.05" />
<polyline points="211.7,914 205,917.3" stroke="#444" stroke-width="1.05" />
<polyline points="254.89999999999998,915.8 244.3,922" stroke="#6a6a6a" stroke-width="2.0" />
<ellipse cx="255.7" cy="915.3" rx="1.2" ry="2.7" transform="rotate(-25 255.7 915.3)" stroke="#333" stroke-width="0.8" fill="#ddd"/>
<polyline points="240.3,924.7 235.7,927.3" stroke="#444" stroke-width="1.05" />
<polyline points="231.7,930 227,932.7" stroke="#444" stroke-width="1.05" />
<polyline points="277.5,924.5 270.3,929.3" stroke="#6a6a6a" stroke-width="2.0" />
<ellipse cx="278.3" cy="924" rx="1.2" ry="2.7" transform="rotate(-25 278.3 924)" stroke="#333" stroke-width="0.8" fill="#ddd"/>
<polyline points="260.8,935 259.8,935.6" stroke="#444" stroke-width="1.05" />
<polyline points="256.3,938 249,941.6" stroke="#444" stroke-width="1.05" />
<path d="M264,962 C268,951 300,951.5 320,964 C324,966.5 326.5,969.5 326.5,973" stroke="#1a1a1a" stroke-width="1.3" fill="none" />
<path d="M264,962 C270,955 300,957 319,971 C323,974 325.5,976.5 326,979" stroke="#1a1a1a" stroke-width="1.3" fill="none" />
<path d="M326.49,999.97 A56,77.5 0 0 1 432.02,952.52 A56,77.5 0 0 1 339.59,1037.50" stroke="#1a1a1a" stroke-width="1.25" fill="none" />
<polyline points="545,790 632.5,741.25 736.2,767.2" stroke="#4d4d4d" stroke-width="0.95" />
<polyline points="547.5,792.5 633.75,744.5 734.6,769.5" stroke="#4d4d4d" stroke-width="0.95" />
<polyline points="632.8,744.5 632.8,800" stroke="#767676" stroke-width="0.95" />
<polyline points="632.8,800 695,818" stroke="#4d4d4d" stroke-width="0.95" />
<polyline points="632.8,800 612.5,812" stroke="#4d4d4d" stroke-width="0.95" />
<polyline points="746.3,782.8 677.1,830.2" stroke="#4d4d4d" stroke-width="0.95" />
<polyline points="745.5,785.9 680.2,832.5" stroke="#4d4d4d" stroke-width="0.95" />
<polyline points="758.3,794.4 758.3,825.5" stroke="#666" stroke-width="0.8" />
<ellipse cx="755.3" cy="820.1" rx="1.0" ry="1.8" transform="rotate(0 755.3 820.1)" stroke="#4d4d4d" stroke-width="0.8" fill="none"/>
<polyline points="759.5,825.5 690.3,880.7" stroke="#4d4d4d" stroke-width="0.7" />
<polyline points="759.5,828.6 690.3,883.9" stroke="#4d4d4d" stroke-width="0.7" />
<polyline points="758,831.7 690.3,887" stroke="#4d4d4d" stroke-width="0.7" />
<polyline points="681.8,897 677.9,901" stroke="#4d4d4d" stroke-width="0.6" />
<path d="M517,768.2 L517,855.2 L700.7,907.2 L700.7,845.8 L609,819.8 C595.5,815.5 583.5,802 577.8,785.5 Z" stroke="#4d4d4d" stroke-width="0.95" fill="none" />
<path d="M517,768.2 L519.3,765.7 L579.2,783 C584.5,799 596.5,813 610.3,817.4 L702.8,843.4 L702.8,905 L700.7,907.2" stroke="#4d4d4d" stroke-width="0.95" fill="none" />
<polyline points="700.7,845.8 702.8,843.4" stroke="#4d4d4d" stroke-width="0.95" />
<path d="M745.76,784.47 A46,63 0 0 1 747.27,687.80 A46,63 0 0 1 816.46,707.04" stroke="#1a1a1a" stroke-width="1.1" fill="none" />
<path d="M821.63,745.01 A46,63 0 0 1 798.65,791.83 A46,63 0 0 1 757.51,794.69 L742.4,804.5" stroke="#1a1a1a" stroke-width="1.1" fill="none" />
<polyline points="742.4,804.5 745.8,784.5" stroke="#1a1a1a" stroke-width="1.1" />
<polyline points="730.5,737 805,693.75" stroke="#4d4d4d" stroke-width="0.8" />
<polyline points="746.25,777 811.25,736.25" stroke="#4d4d4d" stroke-width="0.8" />
<ellipse cx="95.6" cy="331.7" rx="3.2" ry="10.8" transform="rotate(-12 95.6 331.7)" stroke="#333" stroke-width="0.8" fill="none"/>
<polyline points="98.4,330.6 100,330" stroke="#555" stroke-width="1.2" />
<polyline points="100.6,328.9 108.3,325.6" stroke="#444" stroke-width="0.9" stroke-dasharray="3 2" stroke-linecap="butt"/>
<ellipse cx="112.2" cy="323.3" rx="3.4" ry="8" transform="rotate(-10 112.2 323.3)" stroke="#333" stroke-width="1.0" fill="#fff"/>
<ellipse cx="111.5" cy="323.8" rx="1.4" ry="3.2" transform="rotate(-10 111.5 323.8)" stroke="#555" stroke-width="0.6" fill="none"/>
<path d="M113.6,319.9 L139.8,308.2 L142.5,310.6 L141.4,311.8 L115.2,323.5 Z" stroke="#444" stroke-width="0.7" fill="#fff" />
<path d="M119.1,317.4 L139.8,308.2 L142.5,310.6 L141.4,311.8 L120.7,321.1 Z" stroke="#555" stroke-width="0.5" fill="#a4a4a4" />
<polyline points="142.8,310 149.4,307.2" stroke="#444" stroke-width="0.9" stroke-dasharray="3 2" stroke-linecap="butt"/>
<ellipse cx="152.4" cy="305.9" rx="2.5" ry="4.4" transform="rotate(8 152.4 305.9)" stroke="#555" stroke-width="0.7" fill="none"/>
<path d="M123.5,299.3 C118.5,304 120,326 129.8,331.6" stroke="#111" stroke-width="2.3" fill="none" />
<path d="M129.8,331.6 C133.5,331.5 134.3,327.5 132.3,325.3" stroke="#222" stroke-width="0.8" fill="none" />
<path d="M123.5,299.3 C127.5,296.5 130.5,300 129,307.5" stroke="#222" stroke-width="0.8" fill="none" />
<path d="M126.2,305.3 L128.6,309.5 L131.2,304.6" stroke="#222" stroke-width="0.8" fill="none" />
<ellipse cx="100.2" cy="447.5" rx="2.5" ry="1.9" transform="rotate(0 100.2 447.5)" stroke="#555" stroke-width="0.8" fill="none"/>
<polyline points="100.7,452.6 100.7,457.7" stroke="#666" stroke-width="0.7" />
<polyline points="100.9,464.7 100.9,471.3" stroke="#666" stroke-width="0.7" />
<polyline points="101,477.2 101,480.3" stroke="#666" stroke-width="0.7" />
<path d="M101,480.3 L99.6,483 L99.6,514 M101,480.3 L103.3,483 L103.3,514 M101.4,483 L101.4,514" stroke="#888" stroke-width="0.6" fill="none" />
<ellipse cx="101.4" cy="515.9" rx="4.3" ry="1.8" transform="rotate(0 101.4 515.9)" stroke="#777" stroke-width="0.7" fill="#ccc"/>
<path d="M110,461.2 L114.3,464.3 L112.4,465 C113.9,478 114.6,490 113.5,496.7 L110.8,498.3 C112,488 111.5,478 109.6,466.3 L107.7,467 Z" stroke="#111" stroke-width="0.3" fill="#111" />
<ellipse cx="431.5" cy="741" rx="1.8" ry="6" transform="rotate(-25 431.5 741)" stroke="#666" stroke-width="0.7" fill="none"/>
<polyline points="429,743.5 421,748.5" stroke="#444" stroke-width="0.9" stroke-dasharray="3 2" stroke-linecap="butt"/>
<polyline points="414.5,752 420.3,749" stroke="#222" stroke-width="3.0" />
<path d="M412.5,739.7 C409.5,744 412,756 419,759.2" stroke="#111" stroke-width="2.0" fill="none" />
<path d="M412.5,739.7 C415,738.5 417.5,741 417.5,745.5" stroke="#222" stroke-width="0.8" fill="none" />
<path d="M419,759.2 C421.5,759.5 422.5,757.5 421.5,756" stroke="#222" stroke-width="0.8" fill="none" />
<path d="M395.8,764.3 L411,753 M397.6,768.6 L412.8,757.3" stroke="#222" stroke-width="0.8" fill="none" />
<ellipse cx="412" cy="754.6" rx="1.6" ry="3.6" transform="rotate(-32 412 754.6)" stroke="#222" stroke-width="0.9" fill="#fff"/>
<ellipse cx="396.3" cy="766.6" rx="1.8" ry="4.3" transform="rotate(-32 396.3 766.6)" stroke="#222" stroke-width="0.9" fill="#fff"/>
<path d="M389.5,769.5 L394.5,766 M391,773 L396,769.5" stroke="#222" stroke-width="0.8" fill="none" />
<ellipse cx="388.8" cy="771.6" rx="2.2" ry="4.6" transform="rotate(-32 388.8 771.6)" stroke="#222" stroke-width="0.9" fill="#fff"/>
<ellipse cx="388.5" cy="771.8" rx="0.9" ry="2" transform="rotate(-32 388.5 771.8)" stroke="#444" stroke-width="0.6" fill="none"/>
<polyline points="386,773.5 375,781" stroke="#444" stroke-width="0.9" stroke-dasharray="3 2" stroke-linecap="butt"/>
<ellipse cx="367" cy="787.5" rx="3.9" ry="11.3" transform="rotate(20 367 787.5)" stroke="#1a1a1a" stroke-width="0.9" fill="none"/>
<path d="M366,786.8 Q370,788.5 372.8,792.8" stroke="#111" stroke-width="1.8" fill="none" />
<path d="M374.5,789 L383,793.5 M371.5,803.5 L380,810.5" stroke="#111" stroke-width="1.1" fill="none" />
<ellipse cx="377" cy="796" rx="3.8" ry="8.6" transform="rotate(20 377 796)" stroke="#111" stroke-width="1.2" fill="#fff"/>
<ellipse cx="379.3" cy="797.6" rx="3.8" ry="8.8" transform="rotate(20 379.3 797.6)" stroke="#111" stroke-width="1.2" fill="#fff"/>
<ellipse cx="381.5" cy="799.3" rx="4" ry="9" transform="rotate(20 381.5 799.3)" stroke="#111" stroke-width="1.2" fill="#fff"/>
<ellipse cx="385" cy="802" rx="4.8" ry="9.4" transform="rotate(20 385 802)" stroke="#111" stroke-width="1.2" fill="#fff"/>
<ellipse cx="385.4" cy="802.2" rx="2.3" ry="5.6" transform="rotate(20 385.4 802.2)" stroke="#222" stroke-width="0.8" fill="none"/>
<path d="M384.3,799.5 L386.5,805 M386.5,799.8 L384.3,804.6" stroke="#111" stroke-width="0.9" fill="none" />
<polyline points="392,809 398,813" stroke="#444" stroke-width="0.9" stroke-dasharray="2.4 1.8" stroke-linecap="butt"/>
<ellipse cx="401.5" cy="815.5" rx="1.8" ry="11" transform="rotate(22 401.5 815.5)" stroke="#666" stroke-width="0.7" fill="none"/>
<path d="M398,813 L400.5,810.5 M398,813 L401,816.5" stroke="#666" stroke-width="0.6" fill="none" />
<path d="M387.2,812.5 Q391.5,815.5 393.5,821" stroke="#111" stroke-width="2.0" fill="none" />
<ellipse cx="350.5" cy="990" rx="3.4" ry="10.8" transform="rotate(-8 350.5 990)" stroke="#555" stroke-width="0.8" fill="none"/>
<polyline points="353.3,989.2 354.6,988.7" stroke="#666" stroke-width="1.2" />
<polyline points="355.5,988 363,985.5" stroke="#444" stroke-width="0.9" stroke-dasharray="3 2" stroke-linecap="butt"/>
<ellipse cx="368.5" cy="985" rx="4.2" ry="12" transform="rotate(-8 368.5 985)" stroke="#333" stroke-width="1.1" fill="#fff"/>
<ellipse cx="368.3" cy="985.2" rx="2.4" ry="8.6" transform="rotate(-8 368.3 985.2)" stroke="#444" stroke-width="0.8" fill="none"/>
<path d="M366.5,983 L370.3,987.2 M367,979 L369.5,991" stroke="#555" stroke-width="0.6" fill="none" />
<path d="M372,981.2 L394.8,975.2 L398.2,977.9 L396,979.8 L373.1,985.8 Z" stroke="#444" stroke-width="0.7" fill="#fff" />
<path d="M375,980.4 L394.8,975.2 L398.2,977.9 L396,979.8 L376.1,985 Z" stroke="#555" stroke-width="0.5" fill="#9c9c9c" />
<polyline points="399,977.5 409,975" stroke="#444" stroke-width="0.9" stroke-dasharray="3 2" stroke-linecap="butt"/>
<ellipse cx="413" cy="974" rx="2.6" ry="4.9" transform="rotate(5 413 974)" stroke="#666" stroke-width="0.7" fill="none"/>
<path d="M384,955.3 C378,962 380.5,998 389,1004" stroke="#111" stroke-width="2.9" fill="none" />
<path d="M389,1004 C393,1004.5 395.5,1000.5 394,997 L391.8,997.6" stroke="#222" stroke-width="0.8" fill="none" />
<path d="M384,955.3 C388.5,953 392,958.5 393,968" stroke="#222" stroke-width="0.8" fill="none" />
<path d="M387.5,968.6 L391.2,972.6 L394.6,967.3" stroke="#222" stroke-width="0.8" fill="none" />
<ellipse cx="767.9" cy="737.1" rx="2.2" ry="4" transform="rotate(15 767.9 737.1)" stroke="#666" stroke-width="0.7" fill="none"/>
<polyline points="771.4,738.4 781.7,741.1" stroke="#444" stroke-width="0.9" stroke-dasharray="3 2" stroke-linecap="butt"/>
<path d="M781.7,740.7 L786,739.6 L807,744.4 L806.2,748.4 L785.2,743.6 Z" stroke="#444" stroke-width="0.6" fill="#9c9c9c" />
<ellipse cx="811" cy="747.8" rx="3.5" ry="11" transform="rotate(8 811 747.8)" stroke="#333" stroke-width="1.0" fill="#fff"/>
<ellipse cx="811" cy="747.8" rx="2" ry="7.6" transform="rotate(8 811 747.8)" stroke="#555" stroke-width="0.7" fill="none"/>
<path d="M809,745 L813,750.5 M810.2,741 L811.8,754.5" stroke="#666" stroke-width="0.6" fill="none" />
<path d="M794.1,722 C800.5,728 799,758 787.9,766.9" stroke="#111" stroke-width="2.8" fill="none" />
<path d="M794.1,722 C791,721 789,723 788.6,726.2" stroke="#222" stroke-width="0.8" fill="none" />
<path d="M787.9,766.9 C784.5,767 783,764 783.6,750.2 M787.9,766.9 C786.2,765 785.6,760 786,751" stroke="#444" stroke-width="0.7" fill="none" />
</g>
</svg>
</body></html>
